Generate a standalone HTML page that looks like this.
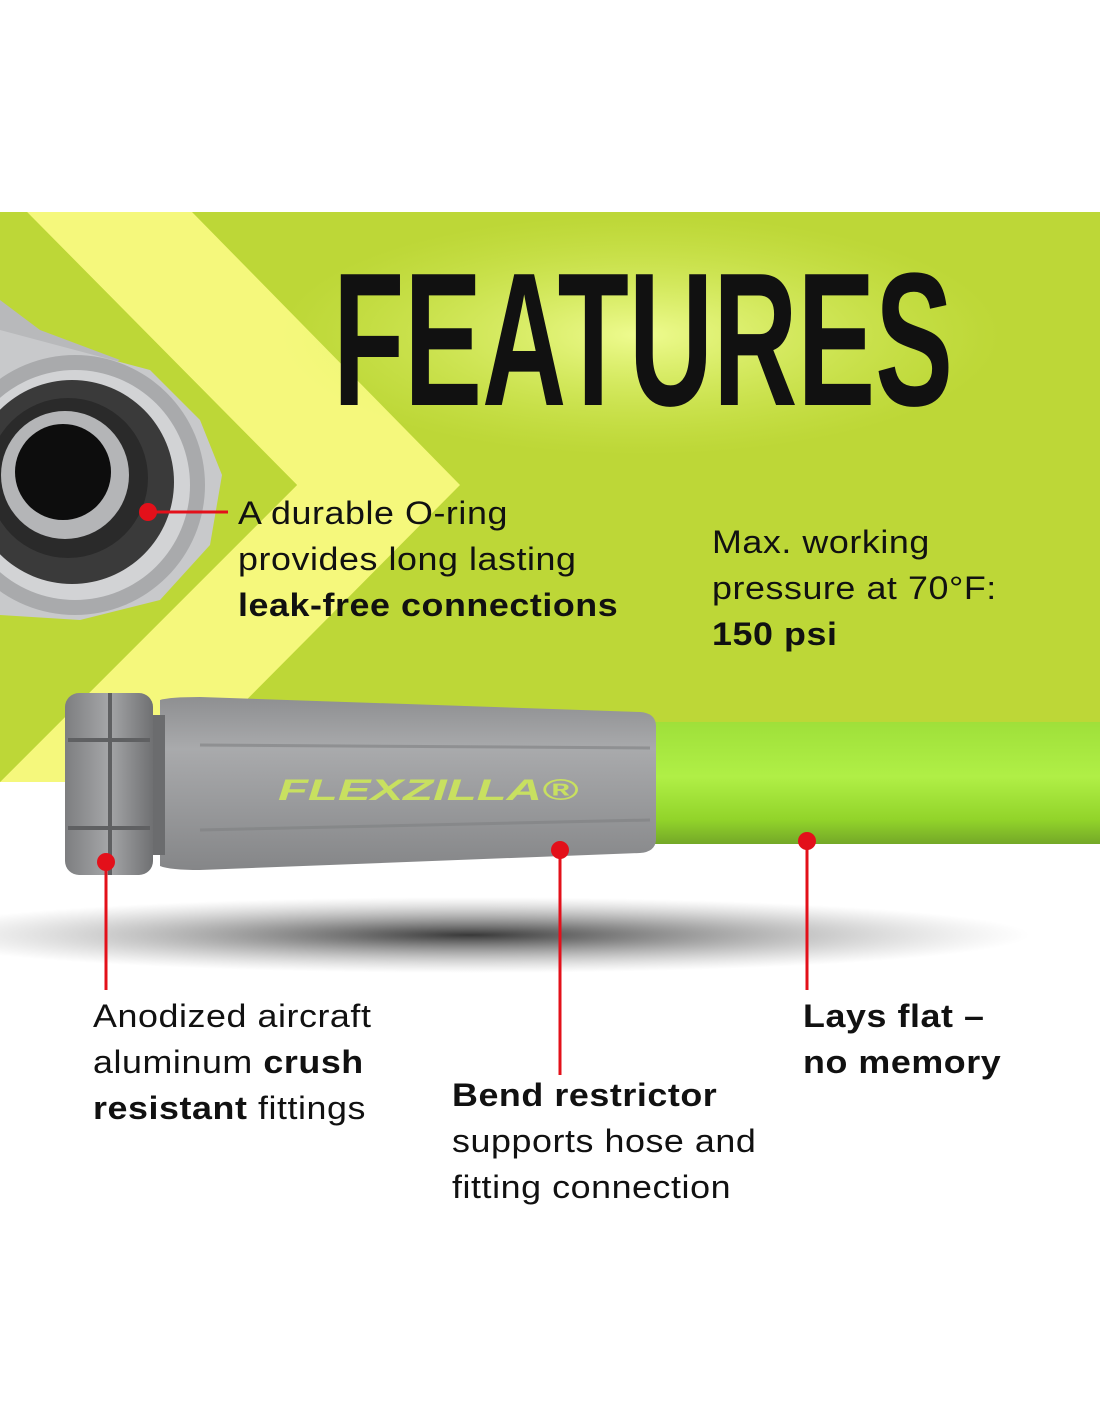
<!DOCTYPE html>
<html><head><meta charset="utf-8"><style>
html,body{margin:0;padding:0;background:#fff}
#w{position:relative;width:1100px;height:1422px;overflow:hidden;background:#fff;font-family:"Liberation Sans","DejaVu Sans",sans-serif;color:#111}
.t{position:absolute;font-size:32px;line-height:46px;letter-spacing:0.5px;transform:scaleX(1.12);transform-origin:0 0;white-space:nowrap}
.t b{font-weight:bold}
</style></head><body><div id="w">
<svg width="1100" height="1422" style="position:absolute;left:0;top:0">
<defs>
<radialGradient id="glow" cx="50%" cy="50%" r="50%"><stop offset="0" stop-color="#f4ff9a" stop-opacity="0.9"/><stop offset="1" stop-color="#d8f060" stop-opacity="0"/></radialGradient>
<linearGradient id="grip" x1="0" y1="0" x2="0" y2="1"><stop offset="0" stop-color="#8e8f91"/><stop offset="0.3" stop-color="#a9aaac"/><stop offset="0.6" stop-color="#9a9b9d"/><stop offset="1" stop-color="#858688"/></linearGradient>
<linearGradient id="hose" x1="0" y1="0" x2="0" y2="1"><stop offset="0" stop-color="#9fe03a"/><stop offset="0.45" stop-color="#b0ef46"/><stop offset="0.8" stop-color="#92d42a"/><stop offset="1" stop-color="#74a828"/></linearGradient>
<radialGradient id="shadow" cx="50%" cy="50%" r="50%"><stop offset="0" stop-color="#222" stop-opacity="0.9"/><stop offset="1" stop-color="#888" stop-opacity="0"/></radialGradient>
<linearGradient id="nut" x1="0" y1="0" x2="1" y2="0"><stop offset="0" stop-color="#7d7e80"/><stop offset="0.5" stop-color="#a5a6a8"/><stop offset="1" stop-color="#6f7072"/></linearGradient>
</defs>
<rect x="0" y="212" width="1100" height="570" fill="#bdd737"/>
<polygon points="27,212 192,212 460,485 165,782 0,782 0,782 297,485" fill="#f5f87c"/>
<polygon points="0,212 27,212 297,485 0,782" fill="#bdd737"/>
<ellipse cx="640" cy="335" rx="360" ry="120" fill="url(#glow)"/>
<polygon points="0,300 40,330 120,360 0,420" fill="#b8b9bb"/>
<polygon points="0,330 150,370 200,420 222,475 210,545 160,600 80,620 0,615" fill="#c8c9cb"/>
<circle cx="75" cy="485" r="130" fill="#a9aaac"/>
<circle cx="75" cy="485" r="115" fill="#d2d3d5"/>
<circle cx="72" cy="482" r="102" fill="#3a3a3a"/>
<circle cx="68" cy="478" r="80" fill="#2a2a2a"/>
<circle cx="65" cy="475" r="64" fill="#b4b5b7"/>
<circle cx="63" cy="472" r="48" fill="#0d0d0d"/>
<ellipse cx="470" cy="935" rx="560" ry="38" fill="url(#shadow)"/>
<rect x="650" y="722" width="450" height="122" fill="url(#hose)"/>
<path d="M160,700 Q170,697 200,697 L640,712 Q655,713 656,725 L656,840 Q655,852 640,853 L200,870 Q170,870 160,866 Z" fill="url(#grip)"/>
<path d="M200,745 L650,748 M200,830 L650,820" stroke="#7f8082" stroke-width="3" fill="none" opacity="0.6"/>
<rect x="145" y="715" width="20" height="140" fill="#6b6c6e"/>
<rect x="65" y="693" width="88" height="182" rx="14" fill="url(#nut)"/>
<path d="M110,693 L110,875 M68,740 L150,740 M68,828 L150,828" stroke="#5f6062" stroke-width="4" fill="none"/>
<text x="278" y="800" font-family="Liberation Sans" font-weight="bold" font-size="30" fill="#c8e060" textLength="300" lengthAdjust="spacingAndGlyphs" font-style="italic">FLEXZILLA®</text>
<g stroke="#e3101a" stroke-width="3" fill="#e3101a">
<line x1="148" y1="512" x2="228" y2="512"/><circle cx="148" cy="512" r="9" stroke="none"/>
<line x1="106" y1="862" x2="106" y2="990"/><circle cx="106" cy="862" r="9" stroke="none"/>
<line x1="560" y1="850" x2="560" y2="1075"/><circle cx="560" cy="850" r="9" stroke="none"/>
<line x1="807" y1="841" x2="807" y2="990"/><circle cx="807" cy="841" r="9" stroke="none"/>
</g>
<text x="333" y="405" font-family="Liberation Sans Narrow, Liberation Sans" font-weight="bold" font-size="190" fill="#111" textLength="620" lengthAdjust="spacingAndGlyphs">FEATURES</text>
</svg>
<div class="t" style="left:238px;top:490px">A durable O-ring<br>provides long lasting<br><b>leak-free connections</b></div>
<div class="t" style="left:712px;top:519px">Max. working<br>pressure at 70°F:<br><b>150 psi</b></div>
<div class="t" style="left:93px;top:993px">Anodized aircraft<br>aluminum <b>crush<br>resistant</b> fittings</div>
<div class="t" style="left:452px;top:1072px"><b>Bend restrictor</b><br>supports hose and<br>fitting connection</div>
<div class="t" style="left:803px;top:993px"><b>Lays flat –<br>no memory</b></div>
</div></body></html>
